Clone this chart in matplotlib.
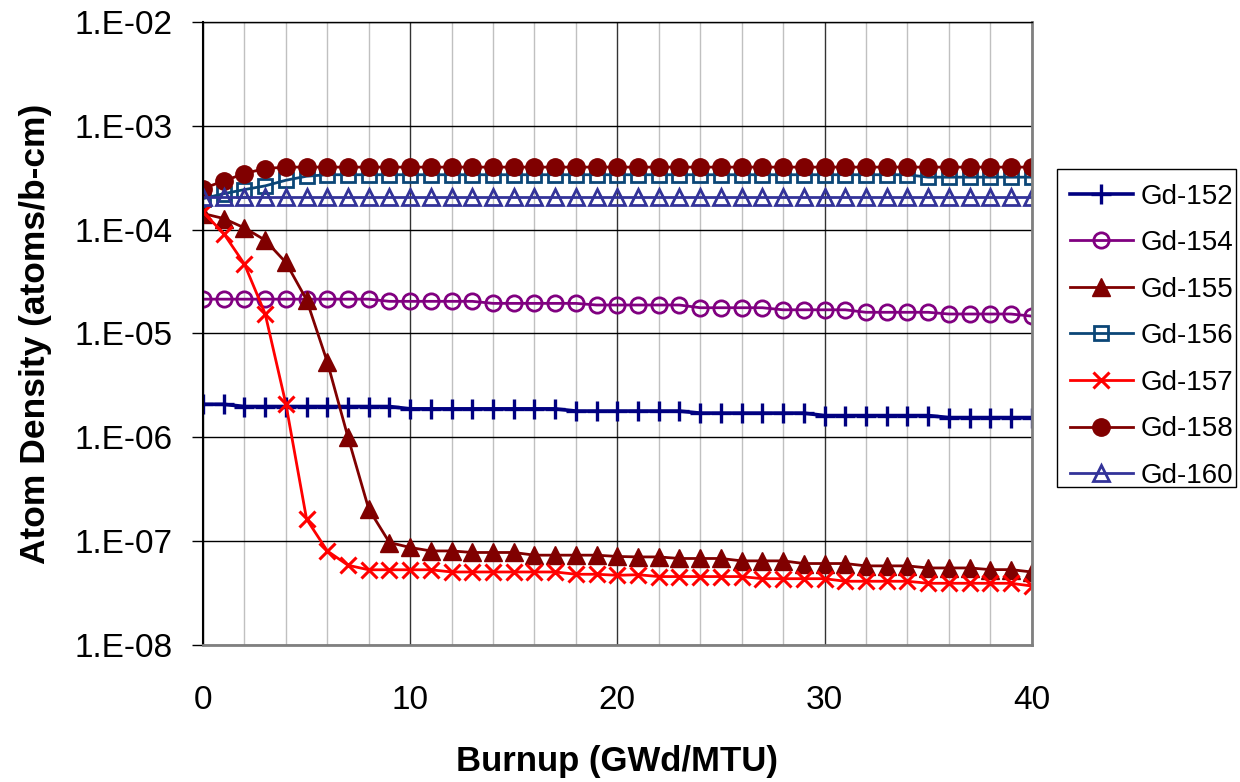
import numpy as np
import matplotlib.pyplot as plt
from matplotlib.patches import Rectangle
from matplotlib.ticker import FixedLocator, FuncFormatter, NullFormatter

plt.rcParams['font.family'] = ['Liberation Sans', 'DejaVu Sans']

# burnup steps (GWd/MTU)
burnup = list(range(41))

gd152 = [2.08e-6, 2.08e-6, 1.98e-6, 1.98e-6, 1.98e-6, 1.98e-6, 1.98e-6, 1.98e-6, 1.98e-6, 1.98e-6,
         1.88e-6, 1.88e-6, 1.88e-6, 1.88e-6, 1.88e-6, 1.88e-6, 1.88e-6, 1.88e-6, 1.79e-6, 1.79e-6,
         1.79e-6, 1.79e-6, 1.79e-6, 1.79e-6, 1.71e-6, 1.71e-6, 1.71e-6, 1.71e-6, 1.71e-6, 1.71e-6,
         1.62e-6, 1.62e-6, 1.62e-6, 1.62e-6, 1.62e-6, 1.62e-6, 1.55e-6, 1.55e-6, 1.55e-6, 1.55e-6,
         1.55e-6]
gd154 = [2.14e-5, 2.14e-5, 2.14e-5, 2.14e-5, 2.14e-5, 2.14e-5, 2.14e-5, 2.14e-5, 2.14e-5, 2.04e-5,
         2.04e-5, 2.04e-5, 2.04e-5, 2.04e-5, 1.95e-5, 1.95e-5, 1.95e-5, 1.95e-5, 1.95e-5, 1.88e-5,
         1.88e-5, 1.88e-5, 1.88e-5, 1.88e-5, 1.77e-5, 1.77e-5, 1.77e-5, 1.77e-5, 1.69e-5, 1.69e-5,
         1.69e-5, 1.69e-5, 1.60e-5, 1.60e-5, 1.60e-5, 1.60e-5, 1.54e-5, 1.54e-5, 1.54e-5, 1.54e-5,
         1.47e-5]
gd155 = [1.43e-4, 1.28e-4, 1.04e-4, 7.92e-5, 4.83e-5, 2.11e-5, 5.32e-6, 1.00e-6, 2.04e-7, 9.70e-8,
         8.69e-8, 8.05e-8, 8.05e-8, 7.78e-8, 7.78e-8, 7.78e-8, 7.33e-8, 7.33e-8, 7.33e-8, 7.33e-8,
         7.12e-8, 7.05e-8, 7.05e-8, 6.81e-8, 6.81e-8, 6.81e-8, 6.46e-8, 6.46e-8, 6.46e-8, 6.09e-8,
         6.09e-8, 6.09e-8, 5.78e-8, 5.78e-8, 5.78e-8, 5.52e-8, 5.52e-8, 5.52e-8, 5.32e-8, 5.32e-8,
         5.05e-8]
gd156 = [1.99e-4, 2.22e-4, 2.43e-4, 2.64e-4, 2.99e-4, 3.27e-4, 3.38e-4, 3.38e-4, 3.38e-4, 3.38e-4,
         3.38e-4, 3.38e-4, 3.38e-4, 3.38e-4, 3.38e-4, 3.38e-4, 3.38e-4, 3.38e-4, 3.38e-4, 3.38e-4,
         3.38e-4, 3.38e-4, 3.38e-4, 3.38e-4, 3.38e-4, 3.38e-4, 3.38e-4, 3.38e-4, 3.38e-4, 3.38e-4,
         3.38e-4, 3.38e-4, 3.38e-4, 3.38e-4, 3.38e-4, 3.20e-4, 3.20e-4, 3.20e-4, 3.20e-4, 3.20e-4,
         3.20e-4]
gd157 = [1.48e-4, 9.17e-5, 4.66e-5, 1.55e-5, 2.10e-6, 1.63e-7, 8.05e-8, 5.86e-8, 5.30e-8, 5.30e-8,
         5.30e-8, 5.30e-8, 5.05e-8, 5.05e-8, 5.05e-8, 5.05e-8, 5.05e-8, 5.05e-8, 4.80e-8, 4.80e-8,
         4.69e-8, 4.75e-8, 4.56e-8, 4.56e-8, 4.56e-8, 4.56e-8, 4.56e-8, 4.35e-8, 4.35e-8, 4.35e-8,
         4.35e-8, 4.11e-8, 4.11e-8, 4.11e-8, 4.11e-8, 3.93e-8, 3.93e-8, 3.93e-8, 3.93e-8, 3.93e-8,
         3.70e-8]
gd158 = [2.49e-4, 2.94e-4, 3.47e-4, 3.88e-4, 4.00e-4, 4.00e-4, 4.00e-4, 4.00e-4, 4.00e-4, 4.00e-4,
         4.00e-4, 4.00e-4, 4.00e-4, 4.00e-4, 4.00e-4, 4.00e-4, 4.00e-4, 4.00e-4, 4.00e-4, 4.00e-4,
         4.00e-4, 4.00e-4, 4.00e-4, 4.00e-4, 4.00e-4, 4.00e-4, 4.00e-4, 4.00e-4, 4.00e-4, 4.00e-4,
         4.00e-4, 4.00e-4, 4.00e-4, 4.00e-4, 4.00e-4, 4.00e-4, 4.00e-4, 4.00e-4, 4.00e-4, 4.00e-4,
         4.00e-4]
gd160 = [2.07e-4, 2.07e-4, 2.07e-4, 2.07e-4, 2.07e-4, 2.07e-4, 2.07e-4, 2.07e-4, 2.07e-4, 2.07e-4,
         2.07e-4, 2.07e-4, 2.07e-4, 2.07e-4, 2.07e-4, 2.07e-4, 2.07e-4, 2.07e-4, 2.07e-4, 2.07e-4,
         2.07e-4, 2.07e-4, 2.07e-4, 2.07e-4, 2.07e-4, 2.07e-4, 2.07e-4, 2.07e-4, 2.07e-4, 2.07e-4,
         2.07e-4, 2.07e-4, 2.07e-4, 2.07e-4, 2.07e-4, 2.07e-4, 2.07e-4, 2.07e-4, 2.07e-4, 2.07e-4,
         2.07e-4]

W, H = 1240, 782
fig = plt.figure(figsize=(W / 100, H / 100), dpi=100)
ax = fig.add_axes([0.1637, 0.1752, 0.6683, 0.7967])

ax.plot(burnup, gd152, color='#000080', lw=2.6, marker='+', ms=14, mew=2.4, label='Gd-152')
ax.plot(burnup, gd154, color='#800080', lw=2, marker='o', ms=11, mew=2, mfc='none', label='Gd-154')
ax.plot(burnup, gd155, color='#800000', lw=2, marker='^', ms=13, mew=1, label='Gd-155')
ax.plot(burnup, gd156, color='#0B4677', lw=2, marker='s', ms=10, mew=2, mfc='none', label='Gd-156')
ax.plot(burnup, gd157, color='#FF0000', lw=2, marker='x', ms=12, mew=2.2, label='Gd-157')
ax.plot(burnup, gd158, color='#800000', lw=2, marker='o', ms=12.5, mew=1, label='Gd-158')
ax.plot(burnup, gd160, color='#333399', lw=2, marker='^', ms=12, mew=2, mfc='none', label='Gd-160')

ax.set_yscale('log')
ax.set_ylim(1e-8, 1e-2)
ax.set_xlim(0, 40)

ax.yaxis.set_major_locator(FixedLocator([1e-8, 1e-7, 1e-6, 1e-5, 1e-4, 1e-3, 1e-2]))
ax.yaxis.set_minor_formatter(NullFormatter())
ax.yaxis.set_minor_locator(FixedLocator([]))
ax.yaxis.set_major_formatter(FuncFormatter(lambda v, p: '1.E-%02d' % round(-np.log10(v))))
ax.xaxis.set_major_locator(FixedLocator([0, 10, 20, 30, 40]))
ax.xaxis.set_minor_locator(FixedLocator([2, 4, 6, 8, 12, 14, 16, 18, 22, 24, 26, 28, 32, 34, 36, 38]))

ax.grid(True, which='major', axis='y', color='#000000', lw=1)
ax.grid(True, which='major', axis='x', color='#333333', lw=1)
ax.grid(True, which='minor', axis='x', color='#c0c0c0', lw=1)
ax.set_axisbelow(True)

ax.tick_params(axis='y', which='major', length=8, width=1, labelsize=24, pad=14)
ax.tick_params(axis='x', which='both', length=0, labelsize=24, pad=29)

for side in ['bottom', 'right']:
    ax.spines[side].set_color('#808080')
    ax.spines[side].set_linewidth(2)
ax.spines['left'].set_color('#000000')
ax.spines['left'].set_linewidth(1.5)
ax.spines['top'].set_color('#000000')
ax.spines['top'].set_linewidth(1)

ax.set_xlabel('Burnup (GWd/MTU)', fontsize=25, fontweight='bold', labelpad=21)
ax.set_ylabel('Atom Density (atoms/b-cm)', fontsize=25.5, fontweight='bold', labelpad=16)

# legend entries without frame, box drawn separately
fig.legend(loc='upper left', bbox_to_anchor=(1057 / W, 1 - 171 / H),
           fontsize=20, frameon=False, handlelength=2.3, handletextpad=0.25,
           labelspacing=0.74, borderpad=0.45, borderaxespad=0, handleheight=0.7)
fig.patches.append(Rectangle((1057 / W, 1 - 487 / H), 179 / W, 318 / H,
                             transform=fig.transFigure, fill=False,
                             edgecolor='#000000', lw=1))

fig.savefig('out.png', dpi=100)
